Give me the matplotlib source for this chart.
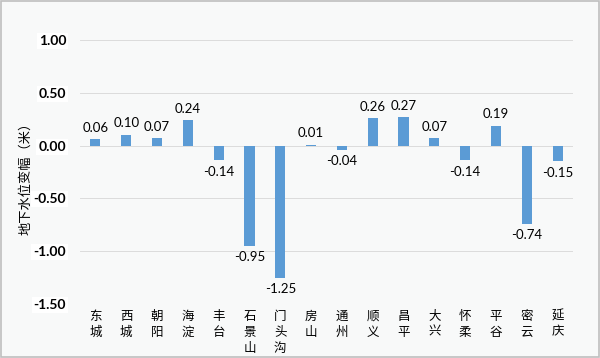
import matplotlib
matplotlib.use("Agg")
import matplotlib.pyplot as plt
from matplotlib.patches import Rectangle

categories = ["东城", "西城", "朝阳", "海淀", "丰台", "石景山", "门头沟", "房山",
              "通州", "顺义", "昌平", "大兴", "怀柔", "平谷", "密云", "延庆"]
values = [0.06, 0.10, 0.07, 0.24, -0.14, -0.95, -1.25, 0.01,
          -0.04, 0.26, 0.27, 0.07, -0.14, 0.19, -0.74, -0.15]
yticks = [1.0, 0.5, 0.0, -0.5, -1.0, -1.5]
ylabel = "地下水位变幅（米）"

plt.rcParams['font.family'] = ['Lato', 'Noto Sans CJK SC', 'DejaVu Sans']

bg = "#f8f9f9"
fig = plt.figure(figsize=(6, 3.58), dpi=100, facecolor=bg)
ax = fig.add_axes([80/600, 1-304/358, 493/600, 264/358])
ax.set_facecolor(bg)

x = list(range(len(categories)))
ax.bar(x, values, width=0.33, color="#5b9bd5", zorder=3)

ax.set_xlim(-0.5, len(categories) - 0.5)
ax.set_ylim(-1.5, 1.0)
ax.set_yticks(yticks)
ax.set_yticklabels([f"{v:.2f}" for v in yticks], fontsize=10, fontweight='bold')
for lab in ax.get_yticklabels():
    lab.set_bbox(dict(facecolor='white', edgecolor='none', pad=1.5))
ax.yaxis.grid(True, color="#dcdcdc", linewidth=0.7, zorder=0)
ax.tick_params(axis='y', length=0, pad=10)
ax.tick_params(axis='x', length=0, pad=4)
ax.set_xticks(x)
ax.set_xticklabels(["\n".join(c) for c in categories], fontsize=9,
                   family=['Noto Sans CJK SC'], linespacing=1.3, va='top')
for s in ax.spines.values():
    s.set_visible(False)

for xi, v in zip(x, values):
    if v >= 0:
        ax.annotate(f"{v:.2f}", (xi, v), xytext=(0, 4), textcoords='offset points',
                    ha='center', va='bottom', fontsize=9.5)
    else:
        ax.annotate(f"{v:.2f}", (xi, v), xytext=(0, -4), textcoords='offset points',
                    ha='center', va='top', fontsize=9.5)

fig.text(26/600, 1-175/358, ylabel, rotation=90, ha='center', va='center',
         fontsize=9.5, family=['Noto Sans CJK SC'])

fig.patches.append(Rectangle((0.002, 0.003), 0.996, 0.994, transform=fig.transFigure,
                             fill=False, edgecolor="#bfbfbf", linewidth=1.2))

fig.savefig("out.png", dpi=100, facecolor=bg)
